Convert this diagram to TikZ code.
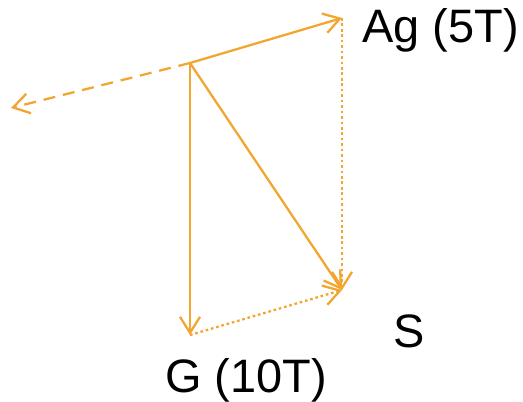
\documentclass[tikz,border=0pt]{standalone}
\usepackage{fontspec}
\setmainfont{Liberation Sans}
\usetikzlibrary{arrows.meta}
\definecolor{vecorange}{RGB}{242,166,48}

\begin{document}
\begin{tikzpicture}[
  vec/.style={vecorange,line width=1.3pt,-{Straight Barb[length=0.32cm,width=0.4cm]}},
  proj/.style={vec,dash pattern=on 1.5pt off 1.6pt},
  back/.style={vec,dash pattern=on 6.8pt off 4.5pt},
  lbl/.style={font=\fontsize{26.7}{30}\selectfont,inner sep=0pt,anchor=base west}]
  \useasboundingbox (0,0) rectangle (10.46,8.02);
  \coordinate (O)  at (3.80,6.76);
  \coordinate (Ag) at (6.84,7.66);
  \coordinate (G)  at (3.80,1.32);
  \coordinate (S)  at (6.84,2.22);
  \coordinate (R)  at (0.22,5.86);
  \draw[vec]  (O) -- (Ag);
  \draw[vec]  (O) -- (G);
  \draw[vec]  (O) -- (S);
  \draw[back] (O) -- (R);
  \draw[proj] (Ag) -- (S);
  \draw[proj] (G) -- (S);
  \node[lbl] (agl) at (7.24,7.16) {Ag (5T)};
  \node[lbl] (sl)  at (7.86,1.08) {S};
  \node[lbl] (gl)  at (3.30,0.18) {G (10T)};
\end{tikzpicture}
\end{document}
